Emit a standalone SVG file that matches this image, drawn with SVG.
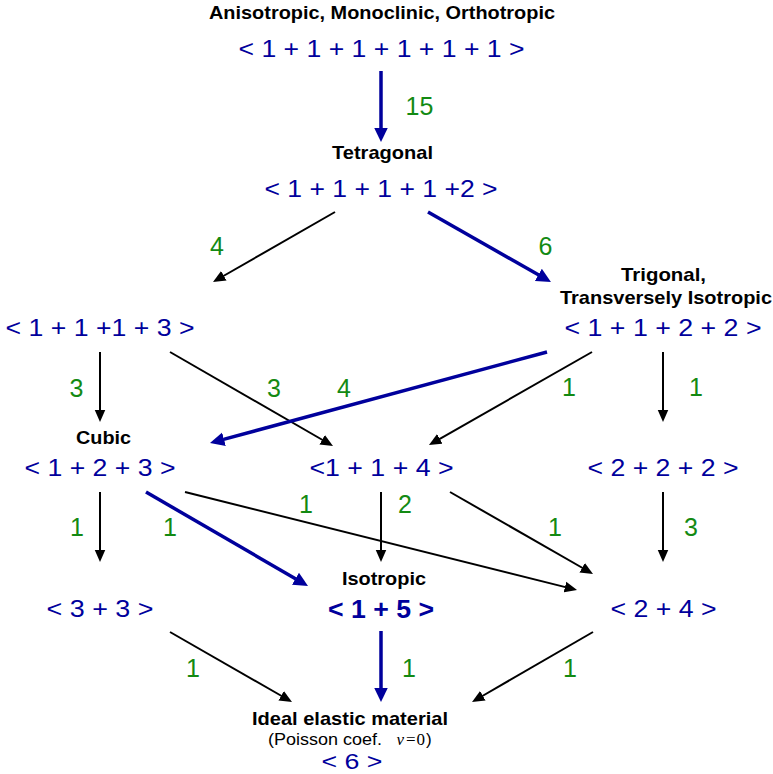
<svg xmlns="http://www.w3.org/2000/svg" width="773" height="774" viewBox="0 0 773 774">
<style>
.b{font-family:"Liberation Sans",Arial,sans-serif;font-size:24px;fill:#00009c;text-anchor:middle}
.h{font-family:"Liberation Sans",Arial,sans-serif;font-size:19px;font-weight:bold;fill:#000;text-anchor:middle}
.g{font-family:"Liberation Sans",Arial,sans-serif;font-size:25px;fill:#138a13;text-anchor:middle}
.p{font-family:"Liberation Sans",Arial,sans-serif;font-size:17px;fill:#000}
.m{font-family:"Liberation Serif","Times New Roman",serif;font-size:17px;fill:#000}
.k{stroke:#000;stroke-width:2;fill:none}
.u{stroke:#00009c;stroke-width:3.5;fill:none}
</style>
<defs>
<marker id="ak" viewBox="0 -6 13 12" markerWidth="13" markerHeight="12" refX="0.5" refY="0" orient="auto" markerUnits="userSpaceOnUse"><path d="M0,-5.5 L12.5,0 L0,5.5 z" fill="#000"/></marker>
<marker id="au" viewBox="0 -7.5 15 15" markerWidth="15" markerHeight="15" refX="0.5" refY="0" orient="auto" markerUnits="userSpaceOnUse"><path d="M0,-7 L14.5,0 L0,7 z" fill="#00009c"/></marker>
</defs>
<rect width="773" height="774" fill="#fff"/>
<g id="connectors">
<line class="u" x1="381" y1="71" x2="381" y2="128" marker-end="url(#au)"/>
<line class="k" x1="335" y1="212" x2="223.4" y2="276" marker-end="url(#ak)"/>
<line class="u" x1="428" y1="212" x2="538.8" y2="275.1" marker-end="url(#au)"/>
<line class="k" x1="100" y1="352" x2="100" y2="410" marker-end="url(#ak)"/>
<line class="k" x1="170" y1="352" x2="322.6" y2="440" marker-end="url(#ak)"/>
<line class="u" x1="547" y1="352" x2="223.5" y2="439.4" marker-end="url(#au)"/>
<line class="k" x1="592" y1="352" x2="439.4" y2="439.1" marker-end="url(#ak)"/>
<line class="k" x1="663" y1="352" x2="663" y2="410" marker-end="url(#ak)"/>
<line class="k" x1="100" y1="492" x2="100" y2="550" marker-end="url(#ak)"/>
<line class="u" x1="146" y1="492" x2="295.9" y2="579" marker-end="url(#au)"/>
<line class="k" x1="185" y1="492" x2="565.4" y2="587.1" marker-end="url(#ak)"/>
<line class="k" x1="381" y1="492" x2="381" y2="550" marker-end="url(#ak)"/>
<line class="k" x1="450" y1="492" x2="582.6" y2="568" marker-end="url(#ak)"/>
<line class="k" x1="663" y1="492" x2="663" y2="550" marker-end="url(#ak)"/>
<line class="k" x1="170" y1="632" x2="281.6" y2="696" marker-end="url(#ak)"/>
<line class="u" x1="381" y1="631" x2="381" y2="688" marker-end="url(#au)"/>
<line class="k" x1="593" y1="632" x2="482.4" y2="696" marker-end="url(#ak)"/>
</g>
<g id="edge-labels">
<text class="g" x="419.5" y="115">15</text>
<text class="g" x="217" y="255">4</text>
<text class="g" x="545.5" y="255">6</text>
<text class="g" x="76.5" y="397">3</text>
<text class="g" x="274" y="397">3</text>
<text class="g" x="344" y="397">4</text>
<text class="g" x="569" y="396">1</text>
<text class="g" x="696" y="396">1</text>
<text class="g" x="77" y="536">1</text>
<text class="g" x="170" y="536">1</text>
<text class="g" x="306" y="513">1</text>
<text class="g" x="405" y="513">2</text>
<text class="g" x="555" y="536">1</text>
<text class="g" x="691" y="536">3</text>
<text class="g" x="193" y="677">1</text>
<text class="g" x="409" y="677">1</text>
<text class="g" x="570" y="677">1</text>
</g>
<g id="n-aniso">
<text class="h" x="382" y="19" textLength="346" lengthAdjust="spacingAndGlyphs">Anisotropic, Monoclinic, Orthotropic</text>
<text class="b" x="381.5" y="57" textLength="286" lengthAdjust="spacingAndGlyphs">&lt; 1 + 1 + 1 + 1 + 1 + 1 &gt;</text>
</g>
<g id="n-tetragonal">
<text class="h" x="382.5" y="159" textLength="101" lengthAdjust="spacingAndGlyphs">Tetragonal</text>
<text class="b" x="381" y="197" textLength="233" lengthAdjust="spacingAndGlyphs">&lt; 1 + 1 + 1 + 1 +2 &gt;</text>
</g>
<g id="n-1113">
<text class="b" x="100" y="336" textLength="189" lengthAdjust="spacingAndGlyphs">&lt; 1 + 1 +1 + 3 &gt;</text>
</g>
<g id="n-trigonal">
<text class="h" x="663.5" y="281" textLength="85" lengthAdjust="spacingAndGlyphs">Trigonal,</text>
<text class="h" x="666" y="304" textLength="212" lengthAdjust="spacingAndGlyphs">Transversely Isotropic</text>
<text class="b" x="663" y="336" textLength="197" lengthAdjust="spacingAndGlyphs">&lt; 1 + 1 + 2 + 2 &gt;</text>
</g>
<g id="n-cubic">
<text class="h" x="103.5" y="444" textLength="55" lengthAdjust="spacingAndGlyphs">Cubic</text>
<text class="b" x="100" y="476" textLength="151" lengthAdjust="spacingAndGlyphs">&lt; 1 + 2 + 3 &gt;</text>
</g>
<g id="n-114">
<text class="b" x="381.5" y="476" textLength="144" lengthAdjust="spacingAndGlyphs">&lt;1 + 1 + 4 &gt;</text>
</g>
<g id="n-222">
<text class="b" x="663" y="476" textLength="151" lengthAdjust="spacingAndGlyphs">&lt; 2 + 2 + 2 &gt;</text>
</g>
<g id="n-33">
<text class="b" x="100" y="617" textLength="107" lengthAdjust="spacingAndGlyphs">&lt; 3 + 3 &gt;</text>
</g>
<g id="n-isotropic">
<text class="h" x="384" y="585" textLength="84" lengthAdjust="spacingAndGlyphs">Isotropic</text>
<text class="b" x="381" y="618" style="font-size:26px;font-weight:bold" textLength="106" lengthAdjust="spacingAndGlyphs">&lt; 1 + 5 &gt;</text>
</g>
<g id="n-24">
<text class="b" x="663.5" y="617" textLength="106" lengthAdjust="spacingAndGlyphs">&lt; 2 + 4 &gt;</text>
</g>
<g id="n-ideal">
<text class="h" x="350" y="725" textLength="196" lengthAdjust="spacingAndGlyphs">Ideal elastic material</text>
<text class="p" x="268" y="745" textLength="114" lengthAdjust="spacingAndGlyphs">(Poisson coef.</text>
<text class="m" x="396.5" y="745" font-style="italic">ν</text>
<text class="m" x="406" y="745">=</text>
<text class="m" x="416.5" y="745">0</text>
<text class="p" x="426" y="745">)</text>
<text class="b" x="352" y="769" style="font-size:22px" textLength="61" lengthAdjust="spacingAndGlyphs">&lt; 6 &gt;</text>
</g>
</svg>
